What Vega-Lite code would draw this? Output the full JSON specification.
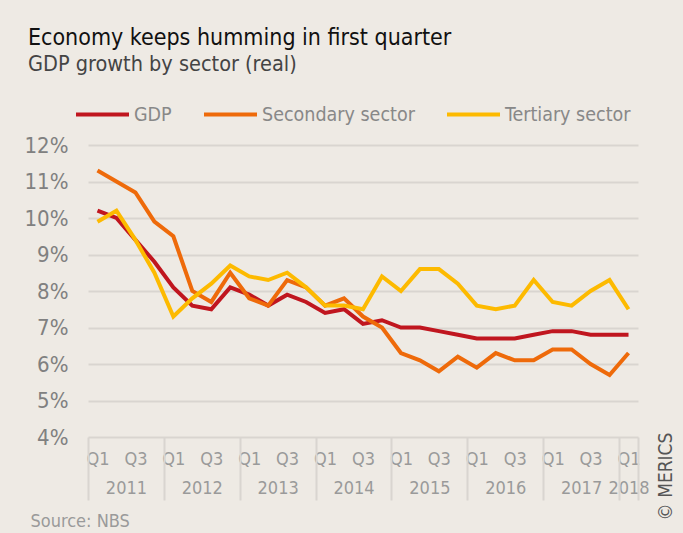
{
  "$schema": "https://vega.github.io/schema/vega-lite/v6.json",
  "width": 550,
  "height": 292,
  "autosize": {"type": "none"},
  "padding": {"left": 88, "top": 145, "right": 45, "bottom": 96},
  "background": "#EEEAE4",
  "config": {
    "view": {"stroke": null},
    "font": "Liberation Sans Narrow, DejaVu Sans Condensed, Roboto"
  },
  "title": {
    "text": "Economy keeps humming in first quarter",
    "subtitle": "GDP growth by sector (real)",
    "anchor": "start",
    "frame": "group",
    "dx": -60,
    "offset": 11,
    "fontSize": 23,
    "fontWeight": "normal",
    "color": "#111111",
    "subtitleFontSize": 21.5,
    "subtitleColor": "#444444",
    "subtitlePadding": 4
  },
  "datasets": {
    "growth": [
      {"period": "2011 Q1", "i": 0, "GDP": 10.2, "Secondary sector": 11.3, "Tertiary sector": 9.9},
      {"period": "2011 Q2", "i": 1, "GDP": 10.0, "Secondary sector": 11.0, "Tertiary sector": 10.2},
      {"period": "2011 Q3", "i": 2, "GDP": 9.4, "Secondary sector": 10.7, "Tertiary sector": 9.4},
      {"period": "2011 Q4", "i": 3, "GDP": 8.8, "Secondary sector": 9.9, "Tertiary sector": 8.5},
      {"period": "2012 Q1", "i": 4, "GDP": 8.1, "Secondary sector": 9.5, "Tertiary sector": 7.3},
      {"period": "2012 Q2", "i": 5, "GDP": 7.6, "Secondary sector": 8.0, "Tertiary sector": 7.8},
      {"period": "2012 Q3", "i": 6, "GDP": 7.5, "Secondary sector": 7.7, "Tertiary sector": 8.2},
      {"period": "2012 Q4", "i": 7, "GDP": 8.1, "Secondary sector": 8.5, "Tertiary sector": 8.7},
      {"period": "2013 Q1", "i": 8, "GDP": 7.9, "Secondary sector": 7.8, "Tertiary sector": 8.4},
      {"period": "2013 Q2", "i": 9, "GDP": 7.6, "Secondary sector": 7.6, "Tertiary sector": 8.3},
      {"period": "2013 Q3", "i": 10, "GDP": 7.9, "Secondary sector": 8.3, "Tertiary sector": 8.5},
      {"period": "2013 Q4", "i": 11, "GDP": 7.7, "Secondary sector": 8.1, "Tertiary sector": 8.1},
      {"period": "2014 Q1", "i": 12, "GDP": 7.4, "Secondary sector": 7.6, "Tertiary sector": 7.6},
      {"period": "2014 Q2", "i": 13, "GDP": 7.5, "Secondary sector": 7.8, "Tertiary sector": 7.6},
      {"period": "2014 Q3", "i": 14, "GDP": 7.1, "Secondary sector": 7.3, "Tertiary sector": 7.5},
      {"period": "2014 Q4", "i": 15, "GDP": 7.2, "Secondary sector": 7.0, "Tertiary sector": 8.4},
      {"period": "2015 Q1", "i": 16, "GDP": 7.0, "Secondary sector": 6.3, "Tertiary sector": 8.0},
      {"period": "2015 Q2", "i": 17, "GDP": 7.0, "Secondary sector": 6.1, "Tertiary sector": 8.6},
      {"period": "2015 Q3", "i": 18, "GDP": 6.9, "Secondary sector": 5.8, "Tertiary sector": 8.6},
      {"period": "2015 Q4", "i": 19, "GDP": 6.8, "Secondary sector": 6.2, "Tertiary sector": 8.2},
      {"period": "2016 Q1", "i": 20, "GDP": 6.7, "Secondary sector": 5.9, "Tertiary sector": 7.6},
      {"period": "2016 Q2", "i": 21, "GDP": 6.7, "Secondary sector": 6.3, "Tertiary sector": 7.5},
      {"period": "2016 Q3", "i": 22, "GDP": 6.7, "Secondary sector": 6.1, "Tertiary sector": 7.6},
      {"period": "2016 Q4", "i": 23, "GDP": 6.8, "Secondary sector": 6.1, "Tertiary sector": 8.3},
      {"period": "2017 Q1", "i": 24, "GDP": 6.9, "Secondary sector": 6.4, "Tertiary sector": 7.7},
      {"period": "2017 Q2", "i": 25, "GDP": 6.9, "Secondary sector": 6.4, "Tertiary sector": 7.6},
      {"period": "2017 Q3", "i": 26, "GDP": 6.8, "Secondary sector": 6.0, "Tertiary sector": 8.0},
      {"period": "2017 Q4", "i": 27, "GDP": 6.8, "Secondary sector": 5.7, "Tertiary sector": 8.3},
      {"period": "2018 Q1", "i": 28, "GDP": 6.8, "Secondary sector": 6.3, "Tertiary sector": 7.5}
    ],
    "years": [
      {"year": "2011", "mid": 1.5},
      {"year": "2012", "mid": 5.5},
      {"year": "2013", "mid": 9.5},
      {"year": "2014", "mid": 13.5},
      {"year": "2015", "mid": 17.5},
      {"year": "2016", "mid": 21.5},
      {"year": "2017", "mid": 25.5},
      {"year": "2018", "mid": 28}
    ]
  },
  "resolve": {"axis": {"x": "independent", "y": "independent"}},
  "layer": [
    {
      "data": {"name": "growth"},
      "transform": [{"fold": ["GDP", "Secondary sector", "Tertiary sector"], "as": ["series", "value"]}],
      "mark": {"type": "line", "strokeWidth": 4},
      "encoding": {
        "x": {
          "field": "i", "type": "quantitative",
          "scale": {"domain": [-0.5, 28.5], "nice": false, "zero": false},
          "axis": {
            "orient": "bottom", "title": null,
            "values": [0, 2, 4, 6, 8, 10, 12, 14, 16, 18, 20, 22, 24, 26, 28],
            "labelExpr": "datum.value % 4 == 0 ? 'Q1' : 'Q3'",
            "labelFontSize": 18, "labelColor": "#9A9A9A", "labelPadding": 13,
            "labelFlush": false, "labelOverlap": false,
            "ticks": false, "domain": false, "grid": false
          }
        },
        "y": {
          "field": "value", "type": "quantitative",
          "scale": {"domain": [4, 12], "nice": false, "zero": false},
          "axis": {
            "title": null,
            "values": [4, 5, 6, 7, 8, 9, 10, 11, 12],
            "labelExpr": "datum.value + '%'",
            "labelFontSize": 22, "labelColor": "#808080", "labelPadding": 20,
            "ticks": false, "domain": false,
            "grid": true, "gridColor": "#D9D5D0", "gridWidth": 2
          }
        },
        "color": {
          "field": "series", "type": "nominal",
          "scale": {
            "domain": ["GDP", "Secondary sector", "Tertiary sector"],
            "range": ["#C0161F", "#EE6A0A", "#FDBA00"]
          },
          "legend": {
            "title": null, "orient": "none", "legendX": -14, "legendY": -59,
            "direction": "horizontal",
            "symbolType": "stroke", "symbolSize": 2809, "symbolStrokeWidth": 4,
            "labelFontSize": 19.5, "labelColor": "#888888", "labelOffset": 3,
            "labelLimit": 400, "columnPadding": 24
          }
        }
      }
    },
    {
      "data": {"name": "years"},
      "mark": {"type": "rule", "opacity": 0},
      "encoding": {
        "x": {
          "field": "mid", "type": "quantitative",
          "scale": {"domain": [-0.5, 28.5], "nice": false, "zero": false},
          "axis": {
            "orient": "bottom",
            "title": "Source: NBS",
            "titleX": -58, "titleY": 89, "titleAlign": "left", "titleBaseline": "alphabetic",
            "titleFontSize": 18, "titleFontWeight": "normal", "titleColor": "#9A9A9A",
            "values": [1.5, 5.5, 9.5, 13.5, 17.5, 21.5, 25.5, 28],
            "labelExpr": "datum.value == 28 ? '2018' : toString(2011 + floor(datum.value / 4))",
            "labelFontSize": 18, "labelColor": "#9A9A9A", "labelPadding": 42,
            "labelFlush": false, "labelOverlap": false,
            "ticks": false, "domain": false, "grid": false
          }
        }
      }
    },
    {
      "data": {"name": "years"},
      "mark": {"type": "rule", "opacity": 0},
      "encoding": {
        "x": {
          "field": "mid", "type": "quantitative",
          "scale": {"domain": [-0.5, 28.5], "nice": false, "zero": false},
          "axis": {
            "orient": "bottom", "title": null,
            "values": [-0.5, 3.5, 7.5, 11.5, 15.5, 19.5, 23.5, 27.5, 28.5],
            "labels": false,
            "ticks": true, "tickSize": 63, "tickColor": "#D9D5D0", "tickWidth": 2,
            "domain": false, "grid": false
          }
        },
        "y": {
          "datum": 8, "type": "quantitative",
          "scale": {"domain": [4, 12], "nice": false, "zero": false},
          "axis": {
            "orient": "right",
            "title": "© MERICS",
            "titleAngle": 270, "titleX": 27, "titleY": 331,
            "titleAlign": "center", "titleBaseline": "middle",
            "titleFontSize": 19, "titleFontWeight": "normal", "titleColor": "#555555",
            "labels": false, "ticks": false, "domain": false, "grid": false
          }
        }
      }
    }
  ]
}
